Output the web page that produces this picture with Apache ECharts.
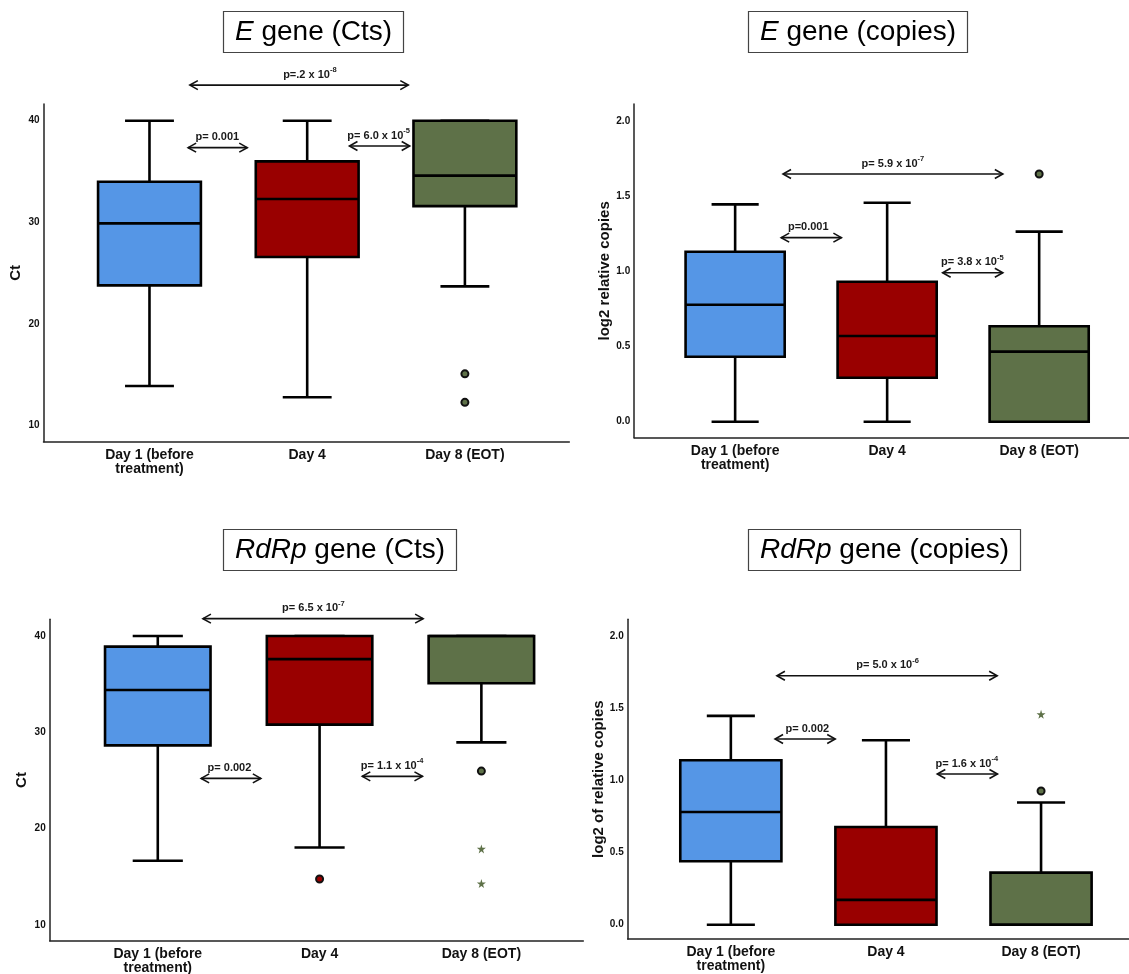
<!DOCTYPE html>
<html><head><meta charset="utf-8">
<script src="https://cdn.jsdelivr.net/npm/echarts@6/dist/echarts.min.js"></script>
<style>html,body{margin:0;padding:0;background:#fff}#c{width:1129px;height:974px}</style>
</head><body><div id="c"></div>
<script>
// ---------------- DATA ----------------
const categories = ['Day 1 (before\ntreatment)', 'Day 4', 'Day 8 (EOT)'];
const boxColors = ['#5596e6', '#990000', '#5e7148'];
const ctTicks = [10, 20, 30, 40];
const copiesTicks = [0, 0.5, 1.0, 1.5, 2.0];

// box rows: [min, Q1, median, Q3, max]
const eCtsBoxes    = [[13.9, 23.8, 29.9, 34.0, 40], [12.8, 26.6, 32.3, 36.0, 40], [23.7, 31.6, 34.6, 40, 40]];
const eCtsOutliers = [[2, 15.1], [2, 12.3]];
const eCtsExtremes = [];
// p-value brackets: [fromX, toX, y, labelX, text, exponent]
const eCtsPvals = [[0.256, 1.641, 43.5, 1.017, 'p=.2 x 10', '-8'],
                   [0.245, 0.620, 37.35, 0.430, 'p= 0.001', ''],
                   [1.268, 1.650, 37.51, 1.453, 'p= 6.0 x 10', '-5']];

const eCopBoxes    = [[0, 0.433, 0.78, 1.133, 1.449], [0, 0.293, 0.571, 0.933, 1.46], [0, 0, 0.467, 0.636, 1.267]];
const eCopOutliers = [[2, 1.651]];
const eCopExtremes = [];
const eCopPvals = [[0.315, 1.761, 1.651, 1.038, 'p= 5.9 x 10', '-7'],
                   [0.303, 0.699, 1.227, 0.481, 'p=0.001', ''],
                   [1.365, 1.761, 0.993, 1.560, 'p= 3.8 x 10', '-5']];

const rCtsBoxes    = [[16.67, 28.65, 34.4, 38.9, 40], [18.05, 30.8, 37.6, 40, 40], [28.96, 35.1, 40, 40, 40]];
const rCtsOutliers = [[1, 14.77], [2, 25.98]];
const rCtsExtremes = [[2, 17.9], [2, 14.3]];
const rCtsPvals = [[0.279, 1.640, 41.8, 0.962, 'p= 6.5 x 10', '-7'],
                   [0.268, 0.637, 25.22, 0.443, 'p= 0.002', ''],
                   [1.264, 1.636, 25.43, 1.448, 'p= 1.1 x 10', '-4']];

const rCopBoxes    = [[0, 0.44, 0.782, 1.14, 1.448], [0, 0, 0.172, 0.678, 1.279], [0, 0, 0, 0.361, 0.847]];
const rCopOutliers = [[2, 0.927]];
const rCopExtremes = [[2, 1.459]];
const rCopPvals = [[0.297, 1.717, 1.727, 1.010, 'p= 5.0 x 10', '-6'],
                   [0.285, 0.673, 1.288, 0.493, 'p= 0.002', ''],
                   [1.331, 1.719, 1.045, 1.521, 'p= 1.6 x 10', '-4']];

// ---------------- LAYOUT ----------------
const FONT = "'Liberation Sans', Arial, Helvetica, sans-serif";
const BOX_W = 0.652, CAP_W = 0.31;
const panels = [
  { title: ['E', ' gene (Cts)'], tl: [223, 11], yName: 'Ct', nameGap: 20,
    grid: { left: 43.5, top: 104, width: 525.8, height: 337.7 }, xr: [-0.672, 2.662], yr: [8.426, 41.643],
    ticks: ctTicks, fmt: v => String(v),
    boxes: eCtsBoxes, outliers: eCtsOutliers, extremes: eCtsExtremes, pvals: eCtsPvals },
  { title: ['E', ' gene (copies)'], tl: [748, 11], yName: 'log2 relative copies', nameGap: 21,
    grid: { left: 634.2, top: 104, width: 494.8, height: 333.7 }, xr: [-0.664, 2.591], yr: [-0.1067, 2.118],
    ticks: copiesTicks, fmt: v => v.toFixed(1),
    boxes: eCopBoxes, outliers: eCopOutliers, extremes: eCopExtremes, pvals: eCopPvals },
  { title: ['RdRp', ' gene (Cts)'], tl: [223, 529], yName: 'Ct', nameGap: 20,
    grid: { left: 49.7, top: 619.3, width: 533.6, height: 321.4 }, xr: [-0.668, 2.630], yr: [8.370, 41.734],
    ticks: ctTicks, fmt: v => String(v),
    boxes: rCtsBoxes, outliers: rCtsOutliers, extremes: rCtsExtremes, pvals: rCtsPvals },
  { title: ['RdRp', ' gene (copies)'], tl: [748, 529], yName: 'log2 of relative copies', nameGap: 21,
    grid: { left: 627.7, top: 619.3, width: 501.3, height: 319.7 }, xr: [-0.665, 2.567], yr: [-0.0992, 2.118],
    ticks: copiesTicks, fmt: v => v.toFixed(1),
    boxes: rCopBoxes, outliers: rCopOutliers, extremes: rCopExtremes, pvals: rCopPvals }
];

const STAR = 'path://M50,0 L61,35 L98,35 L68,57 L79,91 L50,70 L21,91 L32,57 L2,35 L39,35 Z';

function renderBox(params, api) {
  const x = api.value(0);
  const pMin = api.coord([x, api.value(1)]);
  const pQ1 = api.coord([x, api.value(2)]);
  const pMed = api.coord([x, api.value(3)]);
  const pQ3 = api.coord([x, api.value(4)]);
  const pMax = api.coord([x, api.value(5)]);
  const hw = api.size([BOX_W, 0])[0] / 2;
  const cw = api.size([CAP_W, 0])[0] / 2;
  const cx = pMin[0];
  const ls = { stroke: '#000', lineWidth: 2.6 };
  return { type: 'group', children: [
    { type: 'line', shape: { x1: cx, y1: pMax[1], x2: cx, y2: pQ3[1] }, style: ls },
    { type: 'line', shape: { x1: cx, y1: pQ1[1], x2: cx, y2: pMin[1] }, style: ls },
    { type: 'line', shape: { x1: cx - cw, y1: pMax[1], x2: cx + cw, y2: pMax[1] }, style: ls },
    { type: 'line', shape: { x1: cx - cw, y1: pMin[1], x2: cx + cw, y2: pMin[1] }, style: ls },
    { type: 'rect', shape: { x: cx - hw, y: pQ3[1], width: 2 * hw, height: pQ1[1] - pQ3[1] },
      style: { fill: boxColors[x], stroke: '#000', lineWidth: 2.6 } },
    { type: 'line', shape: { x1: cx - hw, y1: pMed[1], x2: cx + hw, y2: pMed[1] }, style: ls }
  ]};
}

function makeArrowRenderer(pvals) {
  return function (params, api) {
    const row = pvals[params.dataIndex];
    const a = api.coord([api.value(0), api.value(2)]);
    const b = api.coord([api.value(1), api.value(2)]);
    const lx = api.coord([api.value(3), api.value(2)])[0];
    const y = a[1];
    const st = { stroke: '#111', lineWidth: 1.6, fill: null };
    const txt = row[5] ? '{m|' + row[4] + '}{s|' + row[5] + '}' : '{m|' + row[4] + '}';
    return { type: 'group', children: [
      { type: 'line', shape: { x1: a[0], y1: y, x2: b[0], y2: y }, style: st },
      { type: 'polyline', shape: { points: [[a[0] + 8, y - 4.5], [a[0], y], [a[0] + 8, y + 4.5]] }, style: st },
      { type: 'polyline', shape: { points: [[b[0] - 8, y - 4.5], [b[0], y], [b[0] - 8, y + 4.5]] }, style: st },
      { type: 'text', x: lx, y: y - 12,
        style: { text: txt, align: 'center', verticalAlign: 'middle', textAlign: 'center', textVerticalAlign: 'middle',
          fill: '#1a1a1a',
          rich: {
            m: { fontSize: 11, fontWeight: 'bold', fontFamily: FONT, lineHeight: 14, verticalAlign: 'bottom', fill: '#1a1a1a', color: '#1a1a1a' },
            s: { fontSize: 7.5, fontWeight: 'bold', fontFamily: FONT, lineHeight: 8, verticalAlign: 'top', fill: '#1a1a1a', color: '#1a1a1a' }
          } } }
    ]};
  };
}

const option = { animation: false, backgroundColor: '#fff', title: [], grid: [], xAxis: [], yAxis: [], series: [] };

panels.forEach((p, i) => {
  option.title.push({
    left: p.tl[0], top: p.tl[1], text: '{i|' + p.title[0] + '}{n|' + p.title[1] + '}',
    borderWidth: 1.2, borderColor: '#444', padding: [6, 12],
    textStyle: { fontFamily: FONT, fontSize: 28, fontWeight: 'normal', color: '#000', lineHeight: 30,
      rich: { i: { fontStyle: 'italic', fontWeight: 'normal', fontSize: 28, fontFamily: FONT, color: '#000', lineHeight: 30 },
              n: { fontWeight: 'normal', fontSize: 28, fontFamily: FONT, color: '#000', lineHeight: 30 } } }
  });
  option.grid.push(Object.assign({ outerBoundsMode: 'none', containLabel: false }, p.grid));
  option.xAxis.push({
    type: 'value', gridIndex: i, min: p.xr[0], max: p.xr[1],
    splitLine: { show: false }, axisTick: { show: false },
    axisLine: { show: true, onZero: false, lineStyle: { color: '#222', width: 1.5 } },
    axisLabel: { customValues: [0, 1, 2], formatter: v => categories[Math.round(v)] || '',
      fontFamily: FONT, fontWeight: 'bold', fontSize: 14, lineHeight: 14, color: '#111', margin: 6 }
  });
  option.yAxis.push({
    type: 'value', gridIndex: i, min: p.yr[0], max: p.yr[1],
    name: p.yName, nameLocation: 'middle', nameGap: p.nameGap,
    nameTextStyle: { fontFamily: FONT, fontWeight: 'bold', fontSize: 15, color: '#111' },
    splitLine: { show: false }, axisTick: { show: false },
    axisLine: { show: true, onZero: false, lineStyle: { color: '#222', width: 1.5 } },
    axisLabel: { customValues: p.ticks, formatter: p.fmt, fontFamily: FONT, fontWeight: 'bold', fontSize: 10, color: '#111', margin: 4 }
  });
  option.series.push({
    type: 'custom', xAxisIndex: i, yAxisIndex: i, clip: false,
    data: p.boxes.map((b, k) => [k].concat(b)),
    encode: { x: 0, y: [1, 2, 3, 4, 5] },
    renderItem: renderBox, z: 2
  });
  option.series.push({
    type: 'scatter', xAxisIndex: i, yAxisIndex: i, symbol: 'circle', symbolSize: 7,
    data: p.outliers,
    itemStyle: { color: q => boxColors[q.value[0]], borderColor: '#111', borderWidth: 2, opacity: 1 }, z: 3
  });
  option.series.push({
    type: 'scatter', xAxisIndex: i, yAxisIndex: i, symbol: STAR, symbolSize: 9,
    data: p.extremes,
    itemStyle: { color: q => boxColors[q.value[0]], opacity: 1 }, z: 3
  });
  option.series.push({
    type: 'custom', xAxisIndex: i, yAxisIndex: i, clip: false,
    data: p.pvals.map(r => [r[0], r[1], r[2], r[3]]),
    encode: { x: [0, 1, 3], y: 2 },
    renderItem: makeArrowRenderer(p.pvals), z: 4
  });
});

const chart = echarts.init(document.getElementById('c'), null, { renderer: 'canvas' });
chart.setOption(option);
</script>
</body></html>
